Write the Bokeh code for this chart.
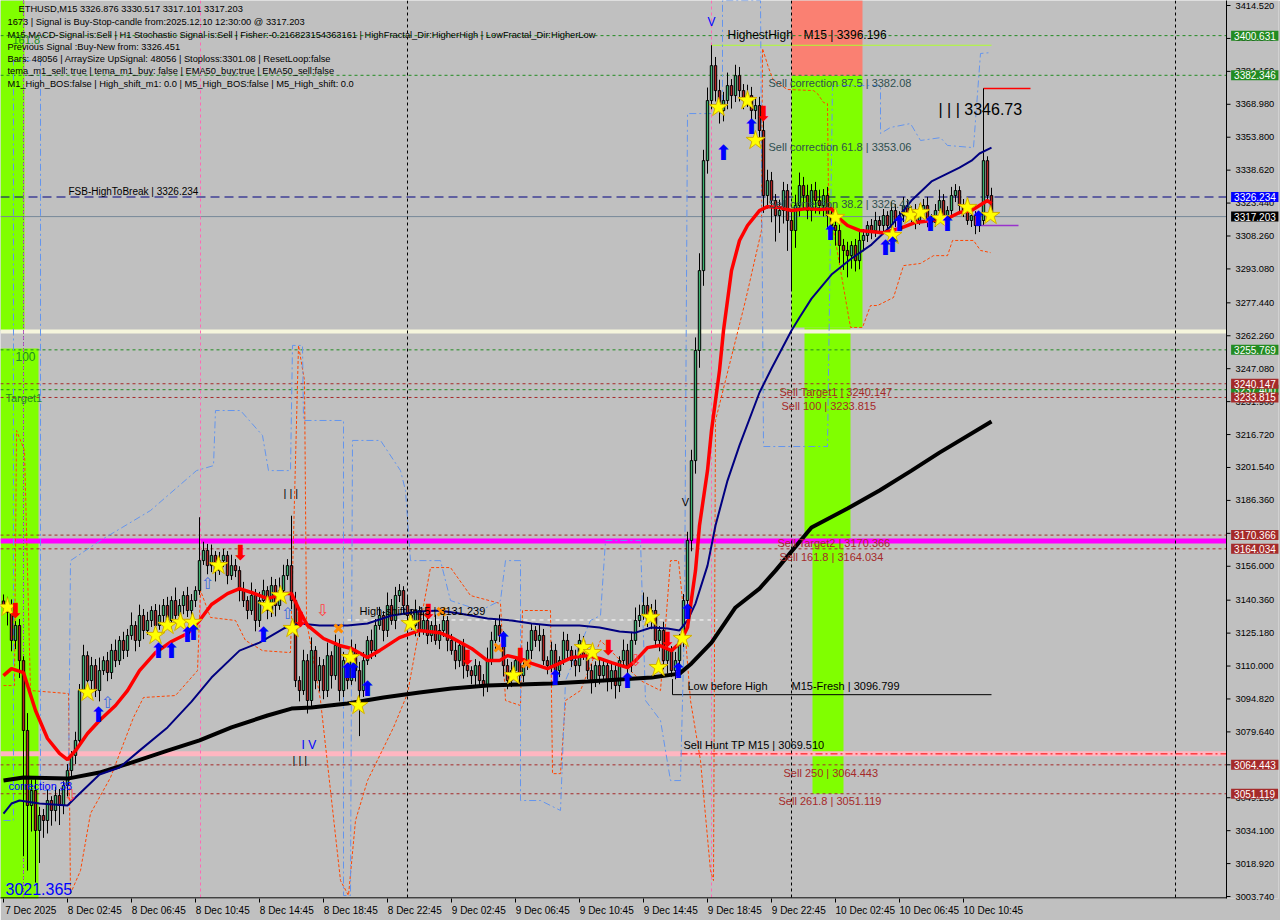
from bokeh.plotting import figure
from bokeh.models import Range1d, FixedTicker, PrintfTickFormatter, Label, Span, ColumnDataSource
from bokeh.embed import file_html
from bokeh.resources import INLINE
from bokeh.core.properties import value

FONT = "Liberation Sans"
BG = "#C0C0C0"

# ---------------- data (ETHUSD M15, bar index = 15-minute bars from 7 Dec 22:45) ----------------
first_open = 3140.0
closes = [
    3137.9, 3134.7, 3121.8, 3128.7, 3112.5, 3080.3, 3045.7, 3052.6, 3034.2, 3041.1,
    3038.8, 3048.0, 3043.4, 3050.3, 3045.7, 3054.9, 3061.8, 3068.8, 3075.7, 3098.7,
    3114.8, 3103.3, 3110.2, 3098.7, 3107.9, 3112.5, 3107.0, 3117.2, 3112.5, 3121.8,
    3117.2, 3124.1, 3128.7, 3121.8, 3133.3, 3126.4, 3131.0, 3135.6, 3128.7, 3133.3,
    3137.9, 3131.0, 3140.2, 3133.3, 3137.9, 3142.5, 3135.6, 3140.2, 3144.8, 3158.6,
    3163.3, 3156.3, 3161.0, 3154.0, 3158.6, 3161.0, 3151.7, 3156.3, 3154.0, 3144.8,
    3140.2, 3135.6, 3142.5, 3131.0, 3140.2, 3144.8, 3135.6, 3147.1, 3137.9, 3144.8,
    3151.7, 3156.3, 3140.2, 3103.3, 3098.7, 3112.5, 3094.1, 3117.2, 3103.3, 3110.2,
    3098.7, 3114.8, 3105.6, 3119.5, 3098.7, 3112.5, 3103.3, 3117.2, 3107.9, 3098.7,
    3112.5, 3121.8, 3117.2, 3128.7, 3133.3, 3126.4, 3137.9, 3131.0, 3142.5, 3144.8,
    3137.9, 3133.3, 3128.7, 3135.6, 3126.4, 3131.0, 3124.1, 3128.7, 3121.8, 3126.4,
    3131.0, 3121.8, 3117.2, 3112.5, 3119.5, 3110.2, 3107.9, 3105.6, 3110.2, 3103.3,
    3101.0, 3112.5, 3121.8, 3128.7, 3124.1, 3110.2, 3103.3, 3107.9, 3112.5, 3105.6,
    3110.2, 3117.2, 3126.4, 3121.8, 3124.1, 3112.5, 3110.2, 3117.2, 3107.9, 3112.5,
    3121.8, 3117.2, 3112.5, 3110.2, 3121.8, 3114.8, 3107.9, 3103.3, 3110.2, 3105.6,
    3110.2, 3103.3, 3107.9, 3101.0, 3112.5, 3117.2, 3110.2, 3121.8, 3131.0, 3133.3,
    3137.9, 3131.0, 3135.6, 3121.8, 3126.4, 3112.5, 3117.2, 3107.9, 3112.5, 3121.8,
    3140.2, 3167.9, 3204.7, 3255.5, 3292.3, 3343.0, 3370.7, 3386.8, 3375.3, 3366.1,
    3370.7, 3377.6, 3373.0, 3382.2, 3375.3, 3370.7, 3373.0, 3366.1, 3368.4, 3356.9,
    3326.9, 3333.8, 3324.6, 3317.7, 3320.0, 3329.2, 3315.4, 3310.8, 3322.3, 3331.5,
    3326.9, 3320.0, 3329.2, 3324.6, 3322.3, 3326.9, 3317.7, 3313.1, 3310.8, 3303.9,
    3301.6, 3299.2, 3303.9, 3296.9, 3306.2, 3308.5, 3313.1, 3310.8, 3315.4, 3313.1,
    3317.7, 3313.1, 3320.0, 3315.4, 3317.7, 3322.3, 3317.7, 3320.0, 3315.4, 3319.1,
    3322.3, 3316.3, 3314.5, 3320.0, 3324.6, 3317.7, 3320.0, 3326.9, 3329.2, 3322.3,
    3320.0, 3315.4, 3317.7, 3313.1, 3315.4, 3343.0, 3326.9, 3317.2]
wick_up = [
    3, 4, 6, 2, 3, 2, 8, 5, 6, 4,  3, 5, 2, 4, 3, 2, 3, 2, 4, 3,
    5, 2, 4, 3, 6, 2, 4, 3, 5, 2,  4, 3, 6, 2, 5, 3, 4, 2, 3, 5,
    3, 4, 2, 6, 3, 2, 4, 3, 2, 20, 4, 3, 5, 2, 4, 3, 2, 5, 3, 2,
    4, 2, 6, 3, 4, 5, 2, 4, 3, 6,  5, 3, 23, 4, 2, 5, 3, 6, 2, 4,
    3, 6, 2, 5, 3, 4, 2, 5, 3, 4,  4, 2, 5, 3, 4, 2, 6, 3, 4, 3,
    2, 4, 3, 5, 2, 4, 3, 2, 5, 3,  4, 2, 3, 5, 2, 3, 4, 2, 3, 2,
    3, 6, 4, 3, 5, 2, 3, 4, 2, 5,  2, 4, 3, 2, 5, 3, 2, 4, 3, 2,
    4, 3, 2, 5, 3, 2, 4, 3, 2, 3,  3, 2, 4, 3, 2, 5, 3, 4, 6, 5,
    6, 4, 3, 5, 2, 4, 3, 2, 4, 3,  3, 4, 5, 6, 8, 5, 6, 9.4, 4, 5,
    4, 6, 3, 5, 4, 3, 5, 4, 3, 4,  6, 5, 4, 3, 5, 4, 3, 4, 5, 6,
    4, 5, 3, 4, 5, 3, 4, 3, 2, 3,  3, 4, 2, 3, 4, 3, 2, 3, 4, 2,
    3, 2, 4, 3, 2, 4, 3, 2, 3, 4,  3, 4, 2, 3, 5, 3, 2, 4, 3, 2,
    3, 2, 3, 2, 3, 3.7, 2, 3.6]
wick_dn = [
    4, 6, 5, 4, 8, 58, 30, 12, 24, 15,  8, 6, 7, 5, 9, 4, 5, 3, 4, 2,
    3, 6, 4, 3, 5, 2, 4, 3, 3, 2,  4, 3, 2, 5, 3, 4, 2, 3, 4, 2,
    3, 2, 5, 3, 2, 4, 3, 2, 3, 2,  2, 4, 3, 5, 2, 3, 4, 2, 3, 5,
    3, 4, 2, 5, 3, 2, 4, 3, 5, 2,  3, 2, 4, 3, 5, 2, 6, 3, 4, 5,
    4, 3, 6, 2, 5, 3, 4, 2, 5, 21,  3, 2, 4, 3, 2, 5, 3, 2, 4, 3,
    4, 3, 2, 5, 3, 2, 4, 3, 2, 4,  3, 5, 2, 4, 3, 6, 3, 4, 5, 3,
    5, 3, 2, 4, 3, 5, 4, 3, 2, 4,  3, 2, 4, 3, 5, 2, 4, 3, 6, 3,
    2, 4, 3, 5, 3, 2, 4, 6, 3, 4,  3, 5, 4, 6, 3, 2, 4, 3, 2, 3,
    2, 3, 4, 3, 5, 4, 6, 3, 4, 5,  3, 4, 5, 6, 8, 7, 6, 4, 5, 6,
    5, 4, 6, 3, 5, 4, 3, 5, 4, 6,  8, 6, 10, 12, 8, 6, 14, 27, 8, 5,
    6, 4, 5, 6, 4, 5, 6, 5, 7, 8,  9, 10, 6, 5, 4, 5, 3, 4, 3, 4,
    3, 4, 2, 3, 4, 3, 2, 3, 4, 2,  3, 4, 3, 2, 3, 4, 3, 2, 3, 4,
    3, 2, 3, 4, 3, 2, 2, 0.1]

time_tick_bars = [0, 16, 32, 48, 64, 80, 96, 112, 128, 144, 160, 176, 192, 208, 224, 240]
time_labels = ["7 Dec 2025", "8 Dec 02:45", "8 Dec 06:45", "8 Dec 10:45", "8 Dec 14:45",
               "8 Dec 18:45", "8 Dec 22:45", "9 Dec 02:45", "9 Dec 06:45", "9 Dec 10:45",
               "9 Dec 14:45", "9 Dec 18:45", "9 Dec 22:45", "10 Dec 02:45", "10 Dec 06:45",
               "10 Dec 10:45"]
price_ticks = [3414.52, 3399.34, 3384.16, 3368.98, 3353.80, 3338.62, 3323.44, 3308.26, 3293.08,
               3277.44, 3262.26, 3247.08, 3231.90, 3216.72, 3201.54, 3186.36, 3171.18, 3156.00,
               3140.36, 3125.18, 3110.00, 3094.82, 3079.64, 3064.46, 3049.28, 3034.10, 3018.92,
               3003.74]

# moving averages (sampled)
ema_fast_bar = [0, 2, 5, 8, 11, 14, 16, 18, 21, 24, 28, 31, 34, 38, 42, 46, 49, 52, 56, 59,
                62, 66, 70, 72, 74, 76, 80, 84, 87, 91, 94, 99, 104, 109, 112, 117, 121, 124, 126, 129,
                132, 136, 139, 142, 146, 149, 152, 156, 158, 161, 164, 167, 169, 171, 173, 174, 176, 177, 179, 180,
                182, 184, 186, 189, 191, 194, 197, 201, 204, 207, 209, 211, 214, 220, 224, 228, 232, 236, 239, 242,
                244, 246, 247]
ema_fast = [3105.6, 3108.8, 3107.0, 3089.5, 3076.6, 3069.7, 3066.9, 3071.0, 3078.9, 3084.9,
            3091.8, 3098.7, 3107.9, 3116.2, 3121.3, 3125.0, 3131.0, 3138.4, 3143.4, 3145.7,
            3143.9, 3141.1, 3143.4, 3143.4, 3135.6, 3128.7, 3122.7, 3119.5, 3118.1, 3113.9,
            3117.1, 3123.1, 3126.4, 3125.4, 3123.1, 3118.1, 3112.5, 3112.5, 3114.8, 3113.5,
            3111.2, 3108.8, 3111.2, 3113.9, 3114.8, 3113.5, 3111.6, 3109.3, 3112.5, 3118.5,
            3119.5, 3117.1, 3120.4, 3127.8, 3154.0, 3174.8, 3200.1, 3218.6, 3246.2, 3264.7,
            3292.3, 3306.2, 3313.1, 3320.0, 3321.8, 3321.4, 3320.0, 3320.9, 3320.5, 3320.9,
            3316.3, 3313.1, 3310.8, 3309.8, 3311.7, 3314.5, 3315.4, 3316.3, 3319.1, 3320.0,
            3322.3, 3324.6, 3323.2]
ema_mid_bar = [0, 2, 4, 9, 16, 18, 24, 29, 34, 41, 47, 52, 59, 64, 70, 74, 79, 86, 91, 97,
               104, 109, 114, 121, 127, 132, 137, 144, 149, 154, 158, 162, 166, 169, 171, 173, 176, 178, 181, 184,
               189, 192, 197, 199, 202, 207, 212, 217, 222, 227, 232, 239, 242, 244, 247]
ema_mid = [3042.0, 3046.6, 3048.0, 3046.6, 3045.7, 3049.4, 3060.0, 3063.2, 3071.0, 3081.7,
           3093.6, 3104.7, 3117.1, 3120.8, 3127.3, 3129.6, 3128.7, 3128.7, 3129.6, 3133.3,
           3135.1, 3135.6, 3134.2, 3131.9, 3131.0, 3129.6, 3128.7, 3128.7, 3127.8, 3125.9,
           3125.4, 3127.8, 3127.3, 3126.4, 3131.0, 3138.8, 3156.3, 3174.8, 3195.5, 3211.7,
           3236.1, 3247.2, 3264.7, 3270.7, 3279.4, 3290.5, 3297.9, 3304.3, 3313.1, 3324.6,
           3333.4, 3339.8, 3343.0, 3346.3, 3349.0]
ema_slow_bar = [0, 5, 16, 24, 32, 41, 49, 57, 66, 72, 77, 86, 95, 104, 112, 121, 129, 137, 146, 154,
                162, 169, 172, 177, 183, 189, 193, 202, 211, 219, 227, 234, 247]
ema_slow = [3057.2, 3058.6, 3058.1, 3060.9, 3065.5, 3071.0, 3075.7, 3081.7, 3087.2, 3090.4,
            3090.9, 3092.7, 3095.5, 3097.8, 3099.6, 3101.0, 3101.5, 3101.9, 3102.9, 3103.8,
            3104.7, 3106.5, 3111.2, 3120.8, 3137.0, 3145.7, 3154.0, 3173.9, 3182.6, 3190.9,
            3200.1, 3208.4, 3222.7]

# stepped envelope lines
lower_bar = [0, 2.75, 3.25, 5.25, 6.75, 16.25, 16.75, 19.25, 21.75, 26.75, 32.5, 35, 43, 48.5, 49.25,
             51.75, 58, 60.5, 64.75, 71.75, 73.75, 75.25, 75.75, 79.25, 84.25, 86.25, 88, 91, 97.5, 101,
             106.75, 111.75, 116.75, 124.25, 125.5, 129.25, 129.75, 136.75, 137.25, 139.25, 140.5, 144.25,
             149.25, 154.25, 159.25, 164.25, 166.75, 168.75, 169.75, 171.75, 174.25, 176.75, 177.5, 178,
             185.5, 189.5, 189.75, 191.25, 192.5, 196, 202.5, 203.5, 205, 206, 206.25, 211.75, 214.75,
             216.75, 218.5, 222.5, 225, 229.25, 232.5, 236, 237.25, 242.5, 244.25, 246.75]
lower_band = [3101.0, 3101.0, 3218.6, 3209.4, 3098.7, 3097.3, 3005.1, 3015.7, 3042.0, 3058.6,
              3086.3, 3095.5, 3096.4, 3107.9, 3144.8, 3132.4, 3131.0, 3121.8, 3117.1, 3116.2,
              3257.8, 3241.6, 3131.0, 3094.1, 3011.1, 3004.2, 3038.8, 3057.2, 3081.7, 3097.3,
              3155.4, 3155.4, 3142.5, 3138.8, 3094.1, 3091.8, 3135.6, 3135.6, 3060.4, 3060.4,
              3094.1, 3098.7, 3121.8, 3112.5, 3103.3, 3098.7, 3158.6, 3158.6, 3140.2, 3094.1,
              3066.4, 3015.7, 3011.1, 3223.2, 3278.5, 3310.8, 3394.7, 3385.9, 3379.9, 3375.8,
              3375.3, 3373.9, 3369.8, 3369.3, 3324.6, 3266.1, 3266.1, 3276.2, 3276.2, 3279.9,
              3294.6, 3295.6, 3299.2, 3299.2, 3306.2, 3306.2, 3301.6, 3300.6]
upper_bar = [0, 2.5, 2.5, 9.25, 9.25, 16.25, 16.75, 24.25, 36.75, 48.25, 52.5, 53, 59.25, 64.75, 66.25,
             71.75, 72.25, 74.75, 75, 85, 85, 86.75, 87.25, 94.25, 99.25, 100.5, 101.75, 109.25, 111.75,
             119.25, 124.25, 125.5, 129.25, 129.25, 134.25, 139.25, 140.5, 146.75, 149.25, 150.5, 159.25,
             160.5, 164.25, 166.75, 169.25, 170.25, 171, 179.75, 179.75, 189.25, 190, 206, 207.25, 219.25,
             219.25, 221.75, 226.75, 229.25, 234.25, 236, 242.5, 244.25, 246.75]
upper_band = [3038.8, 3038.8, 3389.1, 3389.1, 3052.6, 3052.6, 3158.6, 3167.9, 3181.7, 3200.1,
              3202.4, 3227.8, 3227.8, 3216.3, 3200.1, 3200.1, 3257.8, 3257.8, 3223.2, 3223.2,
              3004.2, 3004.2, 3214.0, 3214.0, 3200.1, 3190.9, 3158.6, 3158.6, 3140.2, 3135.6,
              3140.2, 3158.6, 3158.6, 3048.0, 3048.0, 3043.4, 3103.3, 3131.0, 3133.3, 3167.9,
              3167.9, 3094.1, 3084.9, 3057.2, 3057.2, 3131.0, 3364.7, 3364.7, 3416.8, 3416.8,
              3211.2, 3211.2, 3377.6, 3377.6, 3355.5, 3358.3, 3360.1, 3352.3, 3353.6, 3350.0,
              3349.0, 3392.4, 3392.8]

# signal markers
star_bar = [1.0, 21, 38, 41, 44.25, 47.25, 53.75, 66, 69.25, 72.25, 86.75, 88.75, 101.75, 127.5, 145,
            147.25, 161.75, 163.75, 169.75, 178.75, 186, 188, 208, 222.25, 226.75, 229.25, 234.25, 241, 246.75]
star_price = [3137.0, 3097.8, 3124.1, 3128.7, 3130.1, 3130.1, 3156.3, 3137.9, 3142.5, 3127.3,
              3113.9, 3091.8, 3129.6, 3105.6, 3118.5, 3116.2, 3132.4, 3109.3, 3122.7, 3367.5,
              3370.7, 3352.3, 3316.8, 3308.5, 3317.7, 3319.1, 3316.3, 3321.4, 3317.7]
buy_bar = [23.75, 38.75, 42, 46, 47.5, 65, 86, 87.5, 91, 125, 138, 156, 168.75, 171, 180, 187,
           206.75, 220.5, 222.25, 224, 231.75, 236, 243.75]
buy_price = [3087.2, 3117.1, 3117.1, 3124.1, 3125.4, 3124.1, 3107.9, 3107.9, 3099.6, 3121.8,
             3104.7, 3103.3, 3107.9, 3134.7, 3346.3, 3358.3, 3309.8, 3302.9, 3303.9, 3314.0,
             3314.0, 3314.0, 3316.3]
sell_bar = [3, 59.25, 74.25, 106.25, 116, 129.25, 151.25, 166, 190]
sell_price = [3135.6, 3162.3, 3131.0, 3134.7, 3113.9, 3114.8, 3118.1, 3121.8, 3364.7]
cross_bar = [83.75, 109.5, 123.75, 130.75]
cross_price = [3127.3, 3135.1, 3118.5, 3111.2]
hollow_up_bar = [26, 51, 71]
hollow_up_price = [3093.2, 3148.0, 3134.2]
hollow_dn_bar = [16.75, 79.75, 158]
hollow_dn_price = [3050.3, 3135.6, 3112.5]

# price levels
green_levels = [3400.631, 3382.346, 3255.769, 3237.4]
brown_levels = [3240.147, 3233.815, 3170.366, 3164.034, 3064.443, 3051.119]
fsb_level = 3326.234
last_price = 3317.203
band_level = 3264.2
magenta_level = 3167.6
hunt_level = 3069.510
highest_high = 3396.196
low_before_high = 3096.799
high_shift = 3131.239
spike_level = 3376.3
spike_low = 3346.73
stop_level = 3313.1
day_bars = [5, 101, 197, 293]
pink_bars = [49.25, 177]

# zones: left, right (bars), bottom, top (price)
zone_left = [-0.75, -0.75, 197, 200.25, 202.25]
zone_right = [5.25, 8.75, 214.75, 211.75, 210]
zone_bottom = [3264.7, 3002.0, 3266.1, 3167.9, 3051.119]
zone_top = [3417.0, 3256.4, 3382.08, 3266.1, 3167.9]
salmon_zone = (197, 214.75, 3382.08, 3417.0)

axis_boxes = [(3400.631, "#228B22"), (3382.346, "#228B22"), (3326.234, "#0000FF"),
              (3317.203, "#000000"), (3255.769, "#228B22"), (3237.4, "#228B22"),
              (3240.147, "#A52A2A"), (3233.815, "#A52A2A"), (3170.366, "#A52A2A"),
              (3164.034, "#A52A2A"), (3064.443, "#A52A2A"), (3051.119, "#A52A2A")]

info_lines = [
    "ETHUSD,M15  3326.876 3330.517 3317.101 3317.203",
    "1673 | Signal is Buy-Stop-candle from:2025.12.10 12:30:00 @ 3317.203",
    "M15 MACD-Signal is:Sell | H1 Stochastic Signal is:Sell | Fisher:-0.216823154363161 | HighFractal_Dir:HigherHigh | LowFractal_Dir:HigherLow",
    "Previous Signal :Buy-New from: 3326.451",
    "Bars: 48056 | ArraySize UpSignal: 48056 | Stoploss:3301.08 | ResetLoop:false",
    "tema_m1_sell: true | tema_m1_buy: false | EMA50_buy:true | EMA50_sell:false",
    "M1_High_BOS:false | High_shift_m1: 0.0 | M5_High_BOS:false | M5_High_shift: 0.0",
]

# ---------------- figure ----------------
X0, XAXIS = -0.75, 305.75          # left edge of chart, position of the price scale
Y0, Y1 = 3002.83, 3416.83
p = figure(width=1280, height=920,
           x_range=Range1d(X0, 318.75), y_range=Range1d(Y0, Y1),
           output_backend="svg", toolbar_location=None, y_axis_location="right",
           background_fill_color=BG, border_fill_color=BG,
           min_border_left=0, min_border_top=0, min_border_right=2, min_border_bottom=22)
p.outline_line_color = None
p.grid.visible = False

ya = p.yaxis[0]
ya.ticker = FixedTicker(ticks=price_ticks)
ya.formatter = PrintfTickFormatter(format="%.3f")
ya.major_label_text_font = FONT
ya.major_label_text_font_size = "9.3px"
ya.major_label_text_color = "black"
ya.major_tick_out = 0
ya.major_tick_in = 0
ya.minor_tick_out = 0
ya.minor_tick_in = 0
ya.major_label_standoff = -43
ya.axis_line_color = None

xa = p.xaxis[0]
label_pos = [b + len(t) * 0.62 + (0.6 if k == 0 else 0.0)
             for k, (b, t) in enumerate(zip(time_tick_bars, time_labels))]
xa.ticker = FixedTicker(ticks=label_pos, minor_ticks=time_tick_bars)
xa.major_label_overrides = {pos: t for pos, t in zip(label_pos, time_labels)}
xa.major_label_text_font = FONT
xa.major_label_text_font_size = "10px"
xa.major_label_text_color = "black"
xa.major_tick_out = 0
xa.major_tick_in = 0
xa.minor_tick_out = 4
xa.minor_tick_in = 0
xa.minor_tick_line_color = "black"
xa.major_label_standoff = 2
xa.axis_line_color = None

# zones
p.quad(left=zone_left, right=zone_right, bottom=zone_bottom, top=zone_top,
       fill_color="#80FF00", line_color=None, level="image")
p.quad(left=[salmon_zone[0]], right=[salmon_zone[1]], bottom=[salmon_zone[2]], top=[salmon_zone[3]],
       fill_color="#FA8072", line_color=None, level="image")

def hline(loc, color, width=1, dash="solid", x0=X0, x1=XAXIS):
    p.segment(x0=[x0], x1=[x1], y0=[loc], y1=[loc], line_color=color, line_width=width,
              line_dash=dash, level="underlay")

def vspan(loc, color, width=1, dash="solid"):
    p.add_layout(Span(location=loc, dimension="height", line_color=color, line_width=width,
                      line_dash=dash, level="underlay"))

for b in day_bars:
    vspan(b, "black", 1, "3 3")
vspan(day_bars[0], "#BA55D3", 1, "3 3")
for b in pink_bars:
    vspan(b, "#FF69B4", 1, "3 3")

hline(band_level, "#F5F5DC", 4)
hline(magenta_level, "#FF00FF", 5)
hline(hunt_level, "#FFB6C1", 5)
for lv in green_levels:
    hline(lv, "#228B22", 1, "3 3")
for lv in brown_levels:
    hline(lv, "#A52A2A", 1, "3 3")
hline(fsb_level, "#000080", 1, "9 5")
hline(last_price, "#778899", 1)

# partial levels
hline(highest_high, "#ADFF2F", 1, "solid", 177, 247)
hline(low_before_high, "black", 1, "solid", 167.25, 247)
hline(high_shift, "white", 1, "4 4", 86, 178.5)
hline(hunt_level, "#FF0000", 1, "7 3 2 3", 169.25, XAXIS)
hline(spike_level, "#FF0000", 1.5, "solid", 245, 256.75)
hline(stop_level, "#9932CC", 1.5, "solid", 243, 253.75)
p.segment(x0=[167.25, 245], x1=[167.25, 245], y0=[low_before_high, spike_low],
          y1=[3104.0, spike_level], line_color="black", line_width=1, level="underlay")

# price scale line + tick marks, bottom time scale line
p.segment(x0=[XAXIS], x1=[XAXIS], y0=[Y0], y1=[Y1], line_color="black", line_width=1, level="guide")
p.segment(x0=[X0], x1=[XAXIS], y0=[Y0 + 0.3], y1=[Y0 + 0.3], line_color="black", line_width=1, level="guide")
p.segment(x0=[XAXIS] * len(price_ticks), x1=[XAXIS + 1.0] * len(price_ticks),
          y0=price_ticks, y1=price_ticks, line_color="black", line_width=1, level="guide")

# envelope lines
p.line(lower_bar, lower_band, line_color="#FF4500", line_width=1, line_dash="3 2")
p.line(upper_bar, upper_band, line_color="#6495ED", line_width=1, line_dash="7 3 2 3")

# candles
opens = [first_open] + closes[:-1]
highs = [max(o, c) + u for o, c, u in zip(opens, closes, wick_up)]
lows = [min(o, c) - d for o, c, d in zip(opens, closes, wick_dn)]
idx = list(range(len(closes)))
p.segment(x0=idx, x1=idx, y0=lows, y1=highs, line_color="black", line_width=1)
up = [i for i in idx if closes[i] >= opens[i]]
dn = [i for i in idx if closes[i] < opens[i]]
p.vbar(x=up, bottom=[opens[i] for i in up], top=[closes[i] for i in up], width=0.6,
       fill_color="#3CB371", line_color="black", line_width=1)
p.vbar(x=dn, bottom=[closes[i] for i in dn], top=[opens[i] for i in dn], width=0.6,
       fill_color="#B22222", line_color="black", line_width=1)

# moving averages
p.line(ema_slow_bar, ema_slow, line_color="black", line_width=4)
p.line(ema_mid_bar, ema_mid, line_color="#000080", line_width=2)
p.line(ema_fast_bar, ema_fast, line_color="#FF0000", line_width=3.5)

# markers
p.scatter(star_bar, star_price, marker="star", size=20, fill_color="#FFFF00", line_color="#D4B000")
p.scatter(cross_bar, cross_price, marker="x", size=11, line_color="#FF8C00", line_width=3)

def glyph_text(xs, ys, txt, color, size, style="bold", font="DejaVu Sans"):
    src = ColumnDataSource(dict(x=xs, y=ys, t=[txt] * len(xs)))
    p.text(x="x", y="y", text="t", source=src, text_color=color, text_font=value(font),
           text_font_size=size, text_font_style=style, text_align="center", text_baseline="middle")

glyph_text(buy_bar, buy_price, "\u2B06", "#0000FF", "21px", "normal")
glyph_text(sell_bar, sell_price, "\u2B07", "#FF0000", "21px", "normal")
glyph_text(hollow_up_bar, hollow_up_price, "\u21E7", "#4169E1", "16px", "normal")
glyph_text(hollow_dn_bar, hollow_dn_price, "\u21E9", "#FF4040", "16px", "normal")

# ---------------- texts ----------------
def note(txt, x, y, color="black", size="11px", align="left", font=FONT):
    p.add_layout(Label(x=x, y=y, text=txt, text_color=color, text_font=font, text_font_size=size,
                       text_align=align, text_baseline="middle"))

info_y = [3412.7, 3406.7, 3400.7, 3395.2, 3389.7, 3384.2, 3378.5]
for k, (line, yy) in enumerate(zip(info_lines, info_y)):
    note(line, 3.75 if k == 0 else 1.0, yy, "black", "9.3px")

note("161.8", 2.25, 3398.4, "#228B22", "11px")
note("FSB-HighToBreak | 3326.234", 16.25, 3328.8, "black", "10px")
note("HighestHigh", 181, 3400.7, "black", "12px")
note("M15 | 3396.196", 200, 3400.7, "black", "12px")
note("Sell correction 87.5 | 3382.08", 191.25, 3379.0, "#2F4F4F", "11px")
note("Sell correction 61.8 | 3353.06", 191.25, 3349.5, "#2F4F4F", "11px")
note("Sell correction 38.2 | 3326.41", 191.25, 3323.2, "#2F4F4F", "11px")
note("Sell Target1 | 3240.147", 194, 3236.5, "#A52A2A", "11px")
note("Sell 100 | 3233.815", 194.5, 3230.1, "#A52A2A", "11px")
note("Sell Target2 | 3170.366", 193.5, 3166.5, "#A52A2A", "11px")
note("Sell 161.8 | 3164.034", 194, 3160.5, "#A52A2A", "11px")
note("Sell  250 | 3064.443", 195, 3060.9, "#A52A2A", "11px")
note("Sell  261.8 | 3051.119", 193.75, 3047.6, "#A52A2A", "11px")
note("Low before High", 171, 3101.0, "black", "11px")
note("M15-Fresh | 3096.799", 197, 3101.0, "black", "11px")
note("Sell Hunt TP M15 | 3069.510", 170, 3073.8, "black", "11px")
note("High-shift m15 | 3131.239", 89, 3135.6, "black", "11px")
note("| | | 3346.73", 233.75, 3366.5, "black", "16px")
note("100", 3, 3252.7, "#228B22", "12px")
note("Target1", 0.5, 3233.8, "#228B22", "11px")
note("correction 38", 1.25, 3054.9, "#0000FF", "11px")
note("3021.365", 0.5, 3007.4, "#0000FF", "16px")
note("V", 177, 3406.7, "#0000FF", "12px", "center")
note("I V", 74.5, 3073.4, "#0000FF", "12px")
note("| | |", 72.25, 3066.9, "black", "11px")
note("| | |", 70, 3190.0, "black", "11px")
note("V", 170.5, 3185.4, "black", "11px", "center")

# price boxes on the price scale
for val, col in axis_boxes:
    p.add_layout(Label(x=306.9, y=val, text=f"{val:.3f}", text_color="white", text_font=FONT,
                       text_font_size="10px", text_align="left", text_baseline="middle",
                       background_fill_color=col, padding=(3, 1)))

open("out.html", "w").write(file_html(p, INLINE))
